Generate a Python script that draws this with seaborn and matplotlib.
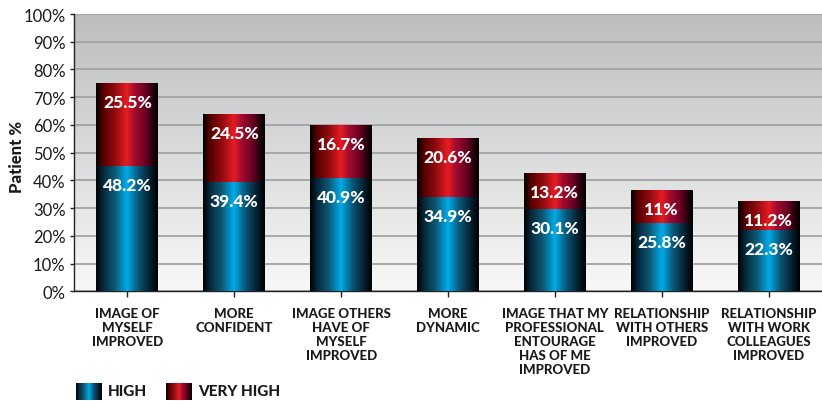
import numpy as np
import pandas as pd
import matplotlib
matplotlib.use("Agg")
import matplotlib.pyplot as plt
from matplotlib.colors import LinearSegmentedColormap
import seaborn as sns

categories = [
    "IMAGE OF\nMYSELF\nIMPROVED",
    "MORE\nCONFIDENT",
    "IMAGE OTHERS\nHAVE OF\nMYSELF\nIMPROVED",
    "MORE\nDYNAMIC",
    "IMAGE THAT MY\nPROFESSIONAL\nENTOURAGE\nHAS OF ME\nIMPROVED",
    "RELATIONSHIP\nWITH OTHERS\nIMPROVED",
    "RELATIONSHIP\nWITH WORK\nCOLLEAGUES\nIMPROVED",
]
# segment heights as drawn in the picture
high_values = [45.3, 39.5, 40.9, 34.2, 29.8, 24.7, 22.3]
very_high_values = [29.8, 24.5, 19.2, 21.2, 13.0, 11.9, 10.4]
# printed labels
high_labels = ["48.2%", "39.4%", "40.9%", "34.9%", "30.1%", "25.8%", "22.3%"]
very_high_labels = ["25.5%", "24.5%", "16.7%", "20.6%", "13.2%", "11%", "11.2%"]
y_ticks = [0, 10, 20, 30, 40, 50, 60, 70, 80, 90, 100]

df = pd.DataFrame({
    "category": categories,
    "high": high_values,
    "very_high": very_high_values,
})
df["total"] = df["high"] + df["very_high"]

sns.set_theme(style="white")
plt.rcParams["font.family"] = ["Lato", "DejaVu Sans"]
HEAVY = "black"

fig = plt.figure(figsize=(8.22, 4.02), dpi=100)
ax = fig.add_axes([74 / 822, (402 - 292.4) / 402, 748 / 822, 277.4 / 402])

blue_cmap = LinearSegmentedColormap.from_list("blue", [
    (0.0, "#000000"), (0.12, "#062a3d"), (0.3, "#0d5775"), (0.5, "#00abe8"),
    (0.68, "#0b587a"), (0.88, "#041e2c"), (1.0, "#000000")])
red_cmap = LinearSegmentedColormap.from_list("red", [
    (0.0, "#000000"), (0.12, "#5a0000"), (0.3, "#8e0b0e"), (0.5, "#e61c24"),
    (0.62, "#a50c2c"), (0.8, "#6a0025"), (0.93, "#1e0008"), (1.0, "#000000")])
bg_cmap = LinearSegmentedColormap.from_list("bg", ["#f8f8f8", "#bcbdbf"])

# background gradient
grad_v = np.linspace(0, 1, 256).reshape(-1, 1)
ax.imshow(grad_v, extent=(0, 1, 0, 1), transform=ax.transAxes, cmap=bg_cmap,
          aspect="auto", origin="lower", zorder=-2)

sns.barplot(data=df, x="category", y="total", color="#c00000", width=0.58,
            ax=ax, zorder=2)
n = len(categories)
sns.barplot(data=df, x="category", y="high", color="#0090d0", width=0.58,
            ax=ax, zorder=3)

grad_h = np.linspace(0, 1, 256).reshape(1, -1)
patches = list(ax.patches)
for i, p in enumerate(patches):
    x0, y0 = p.get_x(), p.get_y()
    w, h = p.get_width(), p.get_height()
    cmap = red_cmap if i < n else blue_cmap
    z = 2.5 if i < n else 3.5
    im = ax.imshow(grad_h, extent=(x0, x0 + w, y0, y0 + h), cmap=cmap,
                   aspect="auto", zorder=z)
    im.set_clip_path(p)
    p.set_facecolor("none")
    p.set_edgecolor("none")

# value labels
for i in range(n):
    ax.annotate(very_high_labels[i], (i, df["total"][i]), xytext=(0, -19),
                textcoords="offset pixels", ha="center", va="center",
                color="white", fontsize=12.5, fontweight=HEAVY, zorder=5)
    ax.annotate(high_labels[i], (i, df["high"][i]), xytext=(0, -19),
                textcoords="offset pixels", ha="center", va="center",
                color="white", fontsize=12.5, fontweight=HEAVY, zorder=5)

ax.set_xlim(-0.5, n - 0.5)
ax.set_ylim(0, 100)
ax.set_yticks(y_ticks)
ax.set_yticklabels([f"{t}%" for t in y_ticks], fontsize=12, color="#1a1a1a")
ax.set_xticks(range(n))
ax.set_xticklabels(categories, fontsize=9.5, fontweight=HEAVY, color="#1a1a1a",
                   linespacing=1.2)
ax.set_axisbelow(True)
ax.yaxis.grid(True, color="#a3a3a3", linewidth=1.3)
ax.xaxis.grid(False)
for s in ["top", "right"]:
    ax.spines[s].set_visible(False)
for s in ["left", "bottom"]:
    ax.spines[s].set_color("#222222")
    ax.spines[s].set_linewidth(1.0)
ax.tick_params(axis="x", bottom=True, length=4, width=1, color="#222222", pad=7)
ax.tick_params(axis="y", left=True, length=3, width=1, color="#222222", pad=3)
ax.set_xlabel("")
ax.set_ylabel("Patient %", fontsize=12, fontweight=HEAVY, color="#1a1a1a")
ax.yaxis.set_label_coords(-0.066, 0.49)

# legend
for lx, cmap, txt, tx in [(76, blue_cmap, "HIGH", 108), (166, red_cmap, "VERY HIGH", 198)]:
    lax = fig.add_axes([lx / 822, 1 / 402, 26 / 822, 17 / 402])
    lax.imshow(grad_h, cmap=cmap, aspect="auto")
    lax.set_axis_off()
    fig.text(tx / 822, 9.5 / 402, txt, fontsize=11, fontweight=HEAVY,
             color="#1a1a1a", va="center", ha="left")

fig.savefig("out.png", dpi=100)
